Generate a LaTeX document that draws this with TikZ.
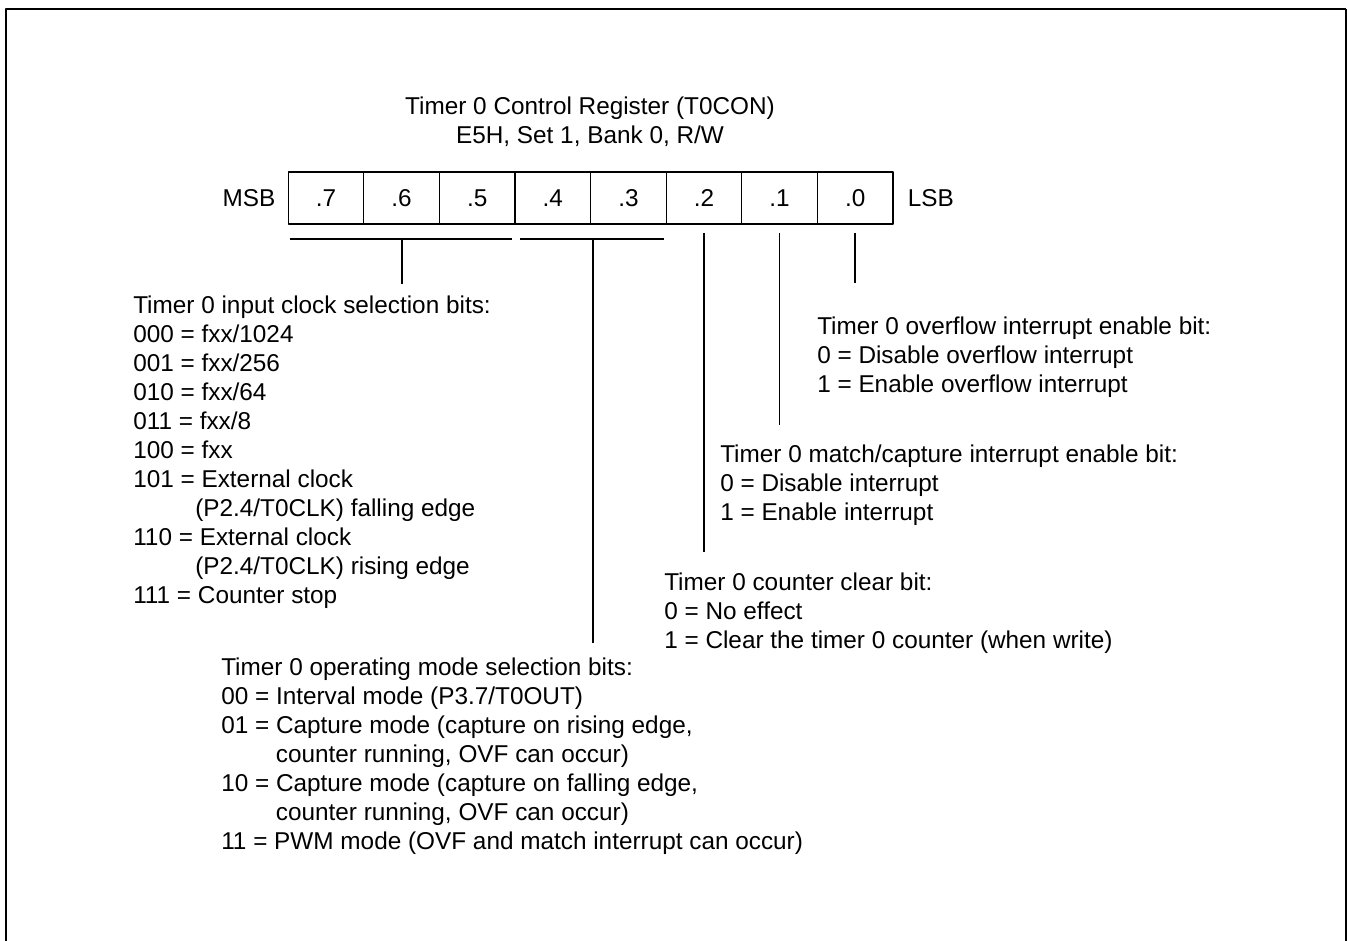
\documentclass[tikz,border=0pt]{standalone}
\usepackage{fontspec}
\setmainfont{Liberation Sans}
\usetikzlibrary{positioning}
\tikzset{
  bitcell/.style={draw, line width=1pt, minimum width=56.7pt, minimum height=39pt, inner sep=0pt},
  desc/.style={align=left, anchor=north west, inner sep=0pt},
  lead/.style={line width=1.2pt}
}
\begin{document}
\begin{tikzpicture}[x=0.75pt, y=-0.75pt, line join=round, font=\fontsize{18.25}{21.75}\selectfont]
				\useasboundingbox (0,0) rectangle (1347,941);
				% 1. Frame
				\draw[line width=1.5pt] (6,941) -- (6,9) -- (1346,9);
				\draw[line width=1pt] (1346,9) -- (1346,941);
				
				% 2. Title and register
				\node[align=center, inner sep=0pt] (title) at (590,122) {Timer 0 Control Register (T0CON)\\E5H, Set 1, Bank 0, R/W};
				\foreach \b [count=\i from 0] in {7,6,5,4,3,2,1,0}
				\node[bitcell] (b\b) at ({326+75.6*\i},198) {.\b};
				\node[inner sep=0pt, left=9pt of b7] (msb) {MSB};
				\node[inner sep=0pt, right=10.5pt of b0] (lsb) {LSB};
				
				% 3. Brackets and leads
				\coordinate (clkL) at (290,239);
				\coordinate (clkR) at (512,239);
				\coordinate (clkT) at (402,239);
				\coordinate (clkB) at (402,284);
				\coordinate (modeL) at (520,239);
				\coordinate (modeR) at (664,239);
				\coordinate (modeT) at (593,239);
				\coordinate (modeB) at (593,643);
				\coordinate (clrT) at (704,233);
				\coordinate (clrB) at (704,552);
				\coordinate (mciT) at (779.6,233);
				\coordinate (mciB) at (779.6,425);
				\coordinate (ovfT) at (855,233);
				\coordinate (ovfB) at (855,283);
				\draw[lead] (clkL) -- (clkR);
				\draw[lead] (clkT) -- (clkB);
				\draw[lead] (modeL) -- (modeR);
				\draw[lead] (modeT) -- (modeB);
				\draw[lead] (clrT) -- (clrB);
				\draw[lead] (mciT) -- (mciB);
				\draw[lead] (ovfT) -- (ovfB);
				
				% 4. Descriptions
				\node[desc] (clksel) at (133,295.5) {Timer 0 input clock selection bits:\\
					000 = fxx/1024\\
					001 = fxx/256\\
					010 = fxx/64\\
					011 = fxx/8\\
					100 = fxx\\
					101 = External clock\\
					\hspace*{46.5pt}(P2.4/T0CLK) falling edge\\
					110 = External clock\\
					\hspace*{46.5pt}(P2.4/T0CLK) rising edge\\
					111 = Counter stop};
				\node[desc] (ovf) at (817,316.5) {Timer 0 overflow interrupt enable bit:\\
					0 = Disable overflow interrupt\\
					1 = Enable overflow interrupt};
				\node[desc] (mci) at (720,444.5) {Timer 0 match/capture interrupt enable bit:\\
					0 = Disable interrupt\\
					1 = Enable interrupt};
				\node[desc] (clr) at (664,572.5) {Timer 0 counter clear bit:\\
					0 = No effect\\
					1 = Clear the timer 0 counter (when write)};
				\node[desc] (mode) at (221,657.5) {Timer 0 operating mode selection bits:\\
					00 = Interval mode (P3.7/T0OUT)\\
					01 = Capture mode (capture on rising edge,\\
					\hspace*{41pt}counter running, OVF can occur)\\
					10 = Capture mode (capture on falling edge,\\
					\hspace*{41pt}counter running, OVF can occur)\\
					11 = PWM mode (OVF and match interrupt can occur)};
			\end{tikzpicture}
\end{document}
